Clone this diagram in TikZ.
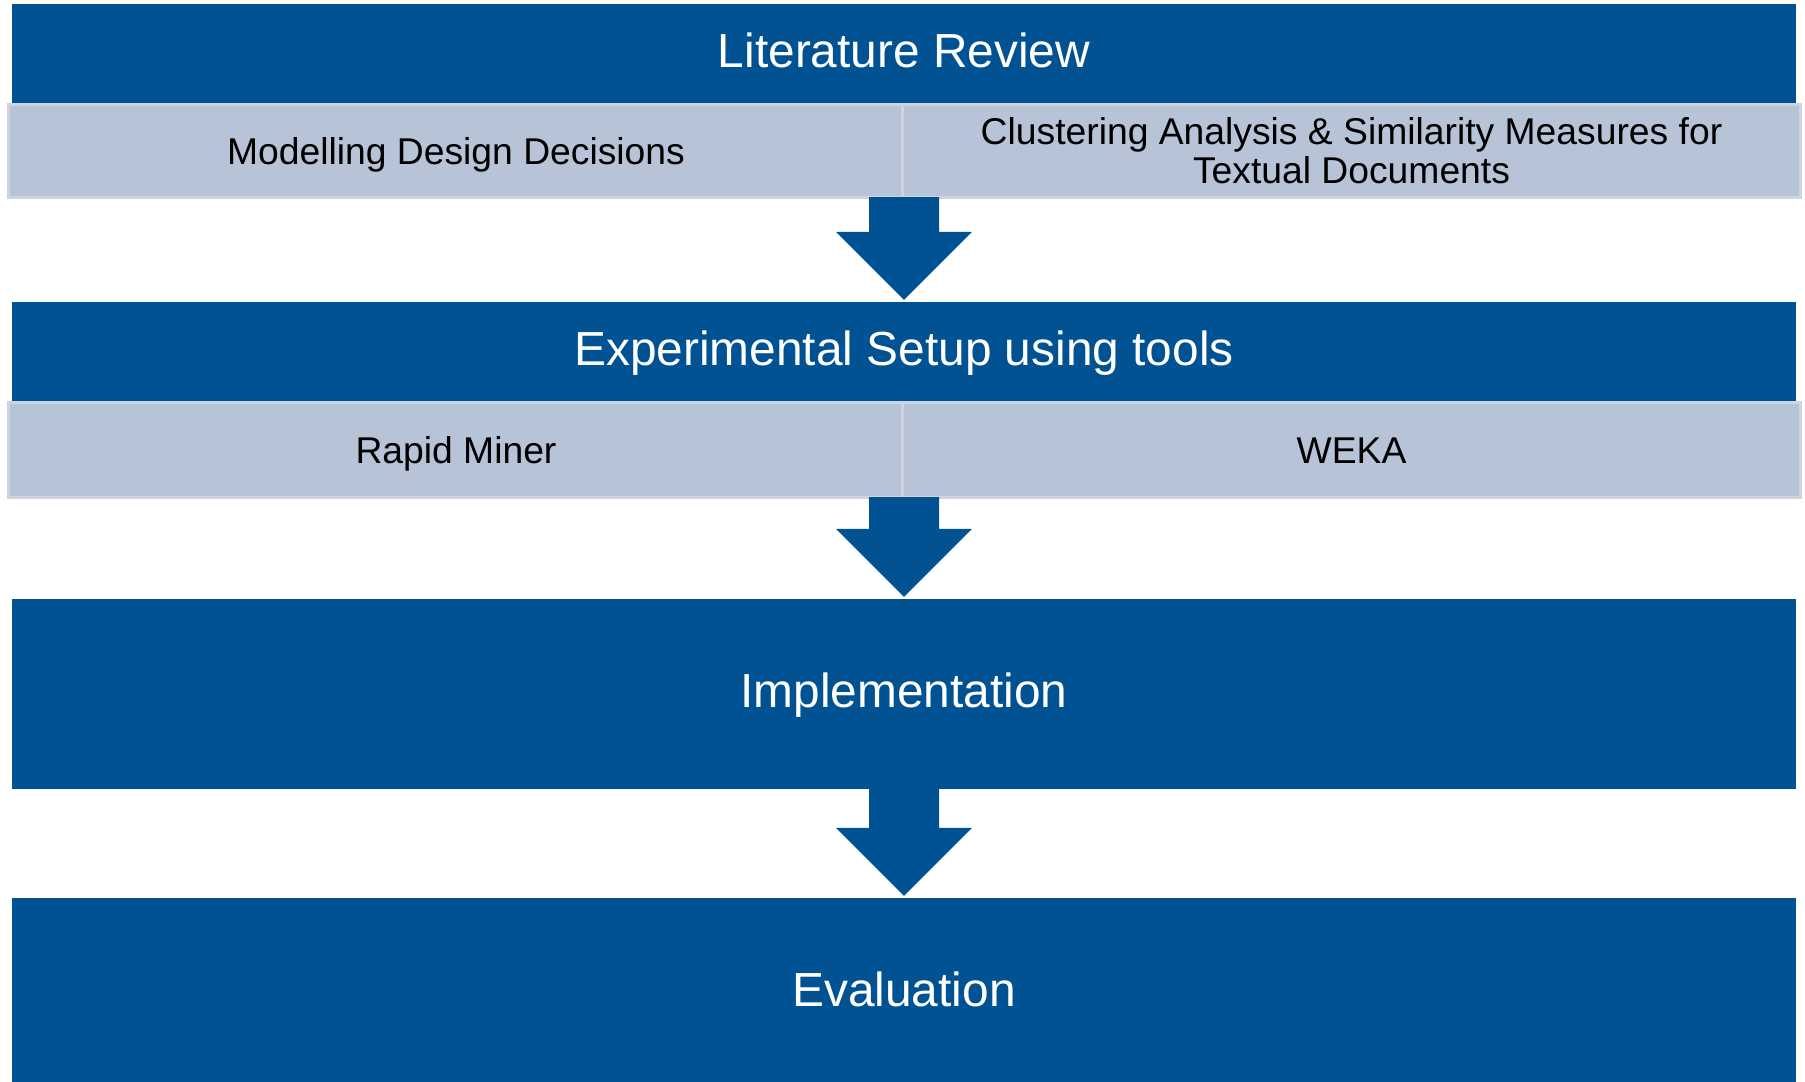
\documentclass[tikz,border=0pt]{standalone}
\usepackage{fontspec}
\setmainfont{Liberation Sans}
\usepackage{tikz}
\usetikzlibrary{calc}

\definecolor{phaseblue}{RGB}{0,82,147}
\definecolor{taskgrey}{RGB}{183,195,214}
\definecolor{taskedge}{RGB}{206,211,224}

\tikzset{
	phase/.style={fill=phaseblue, text=white, minimum width=17.82cm, inner sep=0, outer sep=0,
		text height=0.95em, text depth=0.19em, font=\fontsize{13.6pt}{16pt}\selectfont},
	task/.style={fill=taskgrey, draw=taskedge, line width=0.03cm, inner sep=0, outer sep=0,
		minimum height=0.92cm, align=center, text height=0.95em, text depth=0.19em,
		font=\fontsize{10.6pt}{11.1pt}\selectfont}
}

% block arrow from the bottom of #1 down to the top of #2
\newcommand{\stagearrow}[2]{%
	\fill[phaseblue] ($(#2.north |- #1.south)+(-35,0)$) -- ($(#2.north)+(-35,-70)$)
		-- ($(#2.north)+(-68,-70)$) -- ($(#2.north)+(0,-2)$) -- ($(#2.north)+(68,-70)$)
		-- ($(#2.north)+(35,-70)$) -- ($(#2.north |- #1.south)+(35,0)$) -- cycle;%
}

\begin{document}
\begin{tikzpicture}[x=0.01cm, y=-0.01cm]
	\useasboundingbox (0,0) rectangle (1805,1082);

	\node[phase, minimum height=1.00cm] (litrev) at (904,54) {Literature Review};
	\node[task, minimum width=8.94cm] (mdd) at (456,151) {Modelling Design Decisions};
	\node[task, minimum width=8.97cm, text height={}, text depth={}] (cluster) at (1351.5,151)
		{Clustering Analysis \& Similarity Measures for\\Textual Documents};

	\node[phase, minimum height=1.01cm] (setup) at (904,352.5) {Experimental Setup using tools};
	\node[task, minimum width=8.94cm, minimum height=0.94cm] (rapid) at (456,450) {Rapid Miner};
	\node[task, minimum width=8.97cm, minimum height=0.94cm] (weka) at (1351.5,450) {WEKA};

	\node[phase, minimum height=1.90cm] (impl) at (904,694) {Implementation};
	\node[phase, minimum height=1.90cm] (eval) at (904,993) {Evaluation};

	\stagearrow{mdd}{setup}
	\stagearrow{rapid}{impl}
	\stagearrow{impl}{eval}
\end{tikzpicture}
\end{document}
